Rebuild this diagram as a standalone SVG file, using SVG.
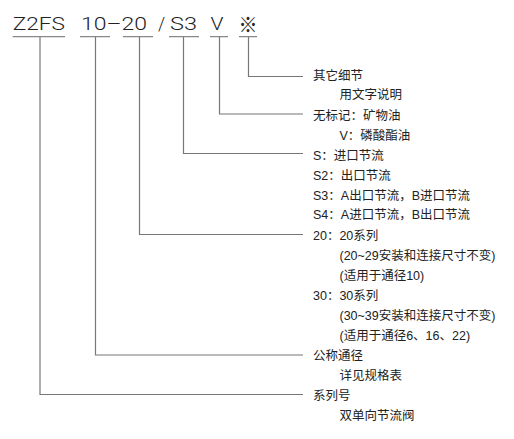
<svg xmlns="http://www.w3.org/2000/svg" width="514" height="439" viewBox="0 0 514 439">
<style>
.code{font-family:"Roboto","Liberation Sans","Noto Sans CJK SC",sans-serif;font-weight:300;font-size:18px;fill:#222}
.t{font-family:"Liberation Sans","Noto Sans CJK SC",sans-serif;font-size:12.5px;fill:#222}
.ul{stroke:#888;stroke-width:1.2;fill:none}
.c{stroke:#777;stroke-width:1.2;fill:none}
</style>
<rect width="514" height="439" fill="#fff"/>
<g id="code">
<text class="code" x="12.7" y="30" textLength="52.3" lengthAdjust="spacingAndGlyphs">Z2FS</text>
<text class="code" x="81" y="30" textLength="66" lengthAdjust="spacingAndGlyphs">10–20</text>
<text class="code" x="158" y="30">/</text>
<text class="code" x="170" y="30" textLength="27" lengthAdjust="spacingAndGlyphs">S3</text>
<text class="code" x="210.5" y="30" textLength="13" lengthAdjust="spacingAndGlyphs">V</text>
<text x="238.5" y="31.5" font-family="Noto Sans CJK SC,sans-serif" font-size="21" fill="#222" textLength="19" lengthAdjust="spacingAndGlyphs">※</text>
<path class="ul" d="M12.7,36.7H65M80,36.7H110M123,36.7H153M169,36.7H199M210,36.7H228M239,36.7H257"/>
</g>
<g id="connectors">
<path class="c" d="M248.5,37V76.5H303"/>
<path class="c" d="M219.5,37V114H303"/>
<path class="c" d="M183.5,37V153.5H303"/>
<path class="c" d="M139.5,37V234.5H303"/>
<path class="c" d="M95.5,37V355H303"/>
<path class="c" d="M40,37V394.5H303"/>
</g>
<g id="other">
<text class="t" x="313" y="79.5">其它细节</text>
<text class="t" x="339.5" y="99">用文字说明</text>
</g>
<g id="oil">
<text class="t" x="313" y="119.5">无标记：矿物油</text>
<text class="t" x="339.5" y="139.5">V：磷酸酯油</text>
</g>
<g id="throttle">
<text class="t" x="313" y="159.5">S：进口节流</text>
<text class="t" x="313" y="179.5">S2：出口节流</text>
<text class="t" x="313" y="199.5">S3：A出口节流，B进口节流</text>
<text class="t" x="313" y="219">S4：A进口节流，B出口节流</text>
</g>
<g id="series-num">
<text class="t" x="313" y="239.5">20：20系列</text>
<text class="t" x="339.5" y="259.5">(20~29安装和连接尺寸不变)</text>
<text class="t" x="339.5" y="279.5">(适用于通径10)</text>
<text class="t" x="313" y="299.5">30：30系列</text>
<text class="t" x="339.5" y="319.5">(30~39安装和连接尺寸不变)</text>
<text class="t" x="339.5" y="339.5">(适用于通径6、16、22)</text>
</g>
<g id="size">
<text class="t" x="313" y="359.5">公称通径</text>
<text class="t" x="339.5" y="379.5">详见规格表</text>
</g>
<g id="series">
<text class="t" x="313" y="399.5">系列号</text>
<text class="t" x="339.5" y="419.5">双单向节流阀</text>
</g>
</svg>
